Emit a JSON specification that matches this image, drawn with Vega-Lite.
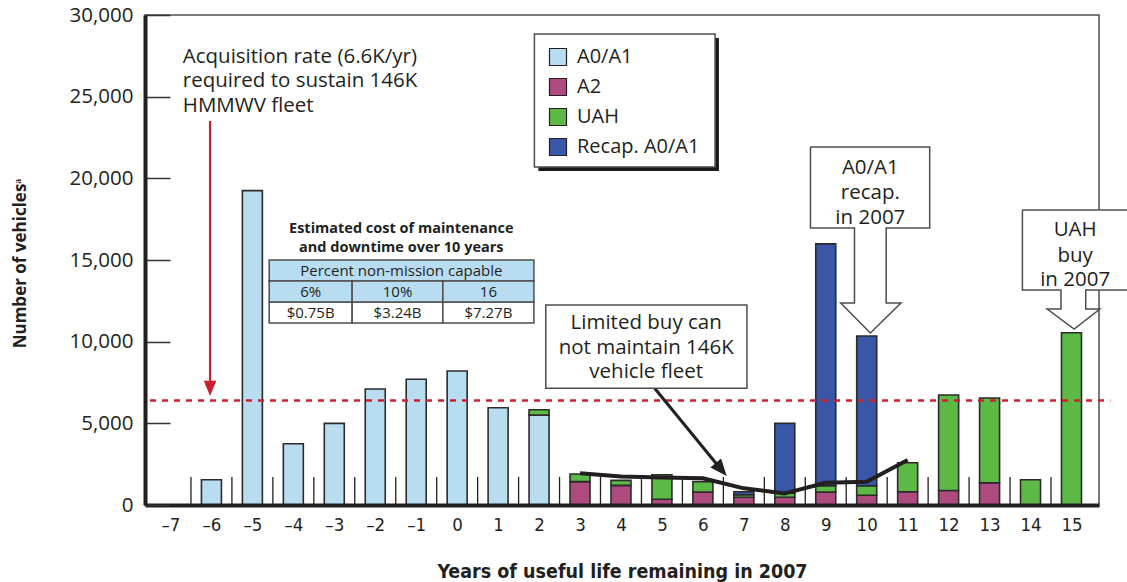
{
  "$schema": "https://vega.github.io/schema/vega-lite/v6.json",
  "width": 954,
  "height": 490,
  "autosize": {"type": "none"},
  "padding": {"left": 145, "top": 15, "right": 28, "bottom": 77},
  "background": "white",
  "config": {
    "view": {"stroke": "#4d4d4d", "strokeWidth": 1.5},
    "font": "Open Sans"
  },
  "datasets": {
    "bars": [
      {"year": -6, "type": "A0/A1", "value": 1550, "ord": 0},
      {"year": -5, "type": "A0/A1", "value": 19250, "ord": 0},
      {"year": -4, "type": "A0/A1", "value": 3750, "ord": 0},
      {"year": -3, "type": "A0/A1", "value": 5000, "ord": 0},
      {"year": -2, "type": "A0/A1", "value": 7100, "ord": 0},
      {"year": -1, "type": "A0/A1", "value": 7700, "ord": 0},
      {"year": 0, "type": "A0/A1", "value": 8200, "ord": 0},
      {"year": 1, "type": "A0/A1", "value": 5950, "ord": 0},
      {"year": 2, "type": "A0/A1", "value": 5500, "ord": 0},
      {"year": 2, "type": "UAH", "value": 330, "ord": 2},
      {"year": 3, "type": "A2", "value": 1430, "ord": 1},
      {"year": 3, "type": "UAH", "value": 470, "ord": 2},
      {"year": 4, "type": "A2", "value": 1200, "ord": 1},
      {"year": 4, "type": "UAH", "value": 310, "ord": 2},
      {"year": 5, "type": "A2", "value": 350, "ord": 1},
      {"year": 5, "type": "UAH", "value": 1500, "ord": 2},
      {"year": 6, "type": "A2", "value": 800, "ord": 1},
      {"year": 6, "type": "UAH", "value": 630, "ord": 2},
      {"year": 7, "type": "A2", "value": 470, "ord": 1},
      {"year": 7, "type": "UAH", "value": 160, "ord": 2},
      {"year": 7, "type": "Recap. A0/A1", "value": 185, "ord": 3},
      {"year": 8, "type": "A2", "value": 470, "ord": 1},
      {"year": 8, "type": "UAH", "value": 245, "ord": 2},
      {"year": 8, "type": "Recap. A0/A1", "value": 4285, "ord": 3},
      {"year": 9, "type": "A2", "value": 800, "ord": 1},
      {"year": 9, "type": "UAH", "value": 385, "ord": 2},
      {"year": 9, "type": "Recap. A0/A1", "value": 14800, "ord": 3},
      {"year": 10, "type": "A2", "value": 600, "ord": 1},
      {"year": 10, "type": "UAH", "value": 580, "ord": 2},
      {"year": 10, "type": "Recap. A0/A1", "value": 9170, "ord": 3},
      {"year": 11, "type": "A2", "value": 815, "ord": 1},
      {"year": 11, "type": "UAH", "value": 1775, "ord": 2},
      {"year": 12, "type": "A2", "value": 890, "ord": 1},
      {"year": 12, "type": "UAH", "value": 5845, "ord": 2},
      {"year": 13, "type": "A2", "value": 1365, "ord": 1},
      {"year": 13, "type": "UAH", "value": 5185, "ord": 2},
      {"year": 14, "type": "UAH", "value": 1550, "ord": 2},
      {"year": 15, "type": "UAH", "value": 10550, "ord": 2}
    ],
    "ticks": [
      {"x": -6.5}, {"x": -5.5}, {"x": -4.5}, {"x": -3.5}, {"x": -2.5}, {"x": -1.5},
      {"x": -0.5}, {"x": 0.5}, {"x": 1.5}, {"x": 2.5}, {"x": 3.5}, {"x": 4.5},
      {"x": 5.5}, {"x": 6.5}, {"x": 7.5}, {"x": 8.5}, {"x": 9.5}, {"x": 10.5},
      {"x": 11.5}, {"x": 12.5}, {"x": 13.5}, {"x": 14.5}
    ],
    "limited": [
      {"x": 3, "y": 1940}, {"x": 4, "y": 1740}, {"x": 5, "y": 1690}, {"x": 6, "y": 1640},
      {"x": 7, "y": 1020}, {"x": 8, "y": 710}, {"x": 9, "y": 1360}, {"x": 10, "y": 1420},
      {"x": 11, "y": 2760}
    ],
    "outlines": [
      {"shape": "recap", "i": 0, "x": 8.627, "y": 21917},
      {"shape": "recap", "i": 1, "x": 11.538, "y": 21917},
      {"shape": "recap", "i": 2, "x": 11.538, "y": 16958},
      {"shape": "recap", "i": 3, "x": 10.475, "y": 16958},
      {"shape": "recap", "i": 4, "x": 10.475, "y": 12366},
      {"shape": "recap", "i": 5, "x": 10.837, "y": 12366},
      {"shape": "recap", "i": 6, "x": 10.089, "y": 10530},
      {"shape": "recap", "i": 7, "x": 9.364, "y": 12366},
      {"shape": "recap", "i": 8, "x": 9.702, "y": 12366},
      {"shape": "recap", "i": 9, "x": 9.702, "y": 16958},
      {"shape": "recap", "i": 10, "x": 8.627, "y": 16958},
      {"shape": "recap", "i": 11, "x": 8.627, "y": 21917},
      {"shape": "uah", "i": 0, "x": 13.802, "y": 18060},
      {"shape": "uah", "i": 1, "x": 16.539, "y": 18060},
      {"shape": "uah", "i": 2, "x": 16.539, "y": 13162},
      {"shape": "uah", "i": 3, "x": 15.348, "y": 13162},
      {"shape": "uah", "i": 4, "x": 15.348, "y": 11999},
      {"shape": "uah", "i": 5, "x": 15.694, "y": 11999},
      {"shape": "uah", "i": 6, "x": 15.066, "y": 10775},
      {"shape": "uah", "i": 7, "x": 14.406, "y": 11999},
      {"shape": "uah", "i": 8, "x": 14.744, "y": 11999},
      {"shape": "uah", "i": 9, "x": 14.744, "y": 13162},
      {"shape": "uah", "i": 10, "x": 13.802, "y": 13162},
      {"shape": "uah", "i": 11, "x": 13.802, "y": 18060}
    ]
  },
  "encoding": {
    "x": {"type": "quantitative", "scale": {"domain": [-7.5, 15.55], "nice": false, "zero": false}},
    "y": {"type": "quantitative", "scale": {"domain": [0, 30000], "nice": false, "zero": false}}
  },
  "layer": [
    {
      "data": {"name": "ticks"},
      "mark": {"type": "rule", "color": "#231f20", "strokeWidth": 1.3},
      "encoding": {
        "x": {"field": "x", "type": "quantitative"},
        "y": {"datum": 0, "type": "quantitative"},
        "y2": {"datum": 1720}
      }
    },
    {
      "data": {"name": "bars"},
      "mark": {"type": "bar", "width": 20, "stroke": "#2b2b2b", "strokeWidth": 1.6},
      "encoding": {
        "x": {
          "field": "year", "type": "quantitative",
          "axis": {
            "values": [-7, -6, -5, -4, -3, -2, -1, 0, 1, 2, 3, 4, 5, 6, 7, 8, 9, 10, 11, 12, 13, 14, 15],
            "format": "d",
            "labelExpr": "replace(datum.label, '−', '–')",
            "ticks": false, "grid": false,
            "labelFont": "DejaVu Sans Condensed, Roboto Condensed, Liberation Sans Narrow, Arial Narrow, sans-serif",
            "labelFontSize": 18.5, "labelColor": "#231f20",
            "labelPadding": 10,
            "domainColor": "#231f20", "domainWidth": 4, "zindex": 1,
            "title": "Years of useful life remaining in 2007",
            "titleFont": "DejaVu Sans Condensed, Roboto Condensed, Liberation Sans Narrow, Arial Narrow, sans-serif",
            "titleFontSize": 19.5, "titleFontWeight": "bold",
            "titleColor": "#231f20", "titleY": 66, "titleBaseline": "middle"
          }
        },
        "y": {
          "field": "value", "type": "quantitative", "stack": "zero",
          "axis": {
            "values": [0, 5000, 10000, 15000, 20000, 25000, 30000],
            "format": ",.0f", "grid": false,
            "labelFont": "Open Sans", "labelFontSize": 20.5, "labelColor": "#231f20",
            "tickSize": -25, "tickColor": "#333333", "tickWidth": 1.5, "labelPadding": 37,
            "domainColor": "#231f20", "domainWidth": 4, "zindex": 1,
            "title": "Number of vehiclesᵃ",
            "titleFont": "Open Sans", "titleFontSize": 17, "titleFontWeight": "bold",
            "titleColor": "#231f20", "titleX": -125, "titleY": 248, "titleBaseline": "middle"
          }
        },
        "color": {
          "field": "type", "type": "nominal",
          "scale": {"domain": ["A0/A1", "A2", "UAH", "Recap. A0/A1"], "range": ["#b8dcf0", "#ad4b7f", "#5cb946", "#3a56a6"]},
          "legend": {
            "orient": "none", "legendX": 403, "legendY": 32, "title": null,
            "symbolType": "square", "symbolSize": 289, "symbolStrokeColor": "#231f20",
            "symbolStrokeWidth": 1.2, "symbolOpacity": 1,
            "labelFont": "Open Sans", "labelFontSize": 20, "labelColor": "#231f20",
            "labelOffset": 9, "rowPadding": 8, "padding": 0
          }
        },
        "order": {"field": "ord", "type": "quantitative"}
      }
    },
    {
      "data": {"values": [{"x": -7.5, "x2": 15.95, "y": 6400}]},
      "mark": {"type": "rule", "color": "#cc2030", "strokeWidth": 2.5, "strokeDash": [6, 6]},
      "encoding": {
        "x": {"field": "x", "type": "quantitative"},
        "x2": {"field": "x2"},
        "y": {"field": "y", "type": "quantitative"}
      }
    },
    {
      "data": {"values": [{"x": -6.034, "y": 23509, "y2": 7300}]},
      "mark": {"type": "rule", "color": "#cc2030", "strokeWidth": 2.2},
      "encoding": {
        "x": {"field": "x", "type": "quantitative"},
        "y": {"field": "y", "type": "quantitative"},
        "y2": {"field": "y2"}
      }
    },
    {
      "data": {"values": [{"x": -6.034, "y": 7224}]},
      "mark": {"type": "point", "shape": "M0,-1L0.7,0.7L-0.7,0.7Z", "size": 324, "filled": true, "color": "#cc2030", "opacity": 1, "angle": 180},
      "encoding": {
        "x": {"field": "x", "type": "quantitative"},
        "y": {"field": "y", "type": "quantitative"}
      }
    },
    {
      "data": {"name": "limited"},
      "mark": {"type": "line", "color": "#231f20", "strokeWidth": 4, "strokeJoin": "round"},
      "encoding": {
        "x": {"field": "x", "type": "quantitative"},
        "y": {"field": "y", "type": "quantitative"}
      }
    },
    {
      "data": {"values": [{"x": 4.822, "y": 7144, "x2": 6.42, "y2": 2250}]},
      "mark": {"type": "rule", "color": "#231f20", "strokeWidth": 3},
      "encoding": {
        "x": {"field": "x", "type": "quantitative"},
        "y": {"field": "y", "type": "quantitative"},
        "x2": {"field": "x2"},
        "y2": {"field": "y2"}
      }
    },
    {
      "data": {"values": [{"x": 6.424, "y": 2247}]},
      "mark": {"type": "point", "shape": "M0,-1L0.7,0.7L-0.7,0.7Z", "size": 400, "filled": true, "color": "#231f20", "opacity": 1, "angle": 140},
      "encoding": {
        "x": {"field": "x", "type": "quantitative"},
        "y": {"field": "y", "type": "quantitative"}
      }
    },
    {
      "data": {"values": [{"x": 1.983, "x2": 6.392, "y": 28590, "y2": 20447}]},
      "mark": {"type": "rect", "color": "#1a1a1a"},
      "encoding": {
        "x": {"field": "x", "type": "quantitative"},
        "x2": {"field": "x2"},
        "y": {"field": "y", "type": "quantitative"},
        "y2": {"field": "y2"}
      }
    },
    {
      "data": {"values": [
        {"x": 1.886, "x2": 6.298, "y": 28835, "y2": 20692},
        {"x": 2.164, "x2": 7.076, "y": 12244, "y2": 7144},
        {"x": -4.589, "x2": -2.564, "y": 12428, "y2": 11142},
        {"x": -2.564, "x2": -0.349, "y": 12428, "y2": 11142},
        {"x": -0.349, "x2": 1.874, "y": 12428, "y2": 11142}
      ]},
      "mark": {"type": "rect", "fill": "white", "stroke": "#4d4d4d", "strokeWidth": 1.5},
      "encoding": {
        "x": {"field": "x", "type": "quantitative"},
        "x2": {"field": "x2"},
        "y": {"field": "y", "type": "quantitative"},
        "y2": {"field": "y2"}
      }
    },
    {
      "data": {"values": [
        {"x": -4.589, "x2": 1.874, "y": 14999, "y2": 13713},
        {"x": -4.589, "x2": -2.564, "y": 13713, "y2": 12428},
        {"x": -2.564, "x2": -0.349, "y": 13713, "y2": 12428},
        {"x": -0.349, "x2": 1.874, "y": 13713, "y2": 12428}
      ]},
      "mark": {"type": "rect", "fill": "#b8dcf0", "stroke": "#4d4d4d", "strokeWidth": 1.5},
      "encoding": {
        "x": {"field": "x", "type": "quantitative"},
        "x2": {"field": "x2"},
        "y": {"field": "y", "type": "quantitative"},
        "y2": {"field": "y2"}
      }
    },
    {
      "data": {"values": [
        {"x": 8.627, "x2": 11.538, "y": 21917, "y2": 16958},
        {"x": 13.802, "x2": 16.539, "y": 18060, "y2": 13162}
      ]},
      "mark": {"type": "rect", "fill": "white"},
      "encoding": {
        "x": {"field": "x", "type": "quantitative"},
        "x2": {"field": "x2"},
        "y": {"field": "y", "type": "quantitative"},
        "y2": {"field": "y2"}
      }
    },
    {
      "data": {"name": "outlines"},
      "mark": {"type": "line", "color": "#4d4d4d", "strokeWidth": 1.5, "strokeJoin": "miter"},
      "encoding": {
        "x": {"field": "x", "type": "quantitative"},
        "y": {"field": "y", "type": "quantitative"},
        "detail": {"field": "shape"},
        "order": {"field": "i", "type": "quantitative"}
      }
    },
    {
      "data": {"values": [
        {"x": -6.7, "y": 27427, "text": "Acquisition rate (6.6K/yr)"},
        {"x": -6.7, "y": 25957, "text": "required to sustain 146K"},
        {"x": -6.7, "y": 24427, "text": "HMMWV fleet"}
      ]},
      "mark": {"type": "text", "align": "left", "baseline": "middle", "font": "Open Sans", "fontSize": 20.5, "color": "#231f20"},
      "encoding": {
        "x": {"field": "x", "type": "quantitative"},
        "y": {"field": "y", "type": "quantitative"},
        "text": {"field": "text"}
      }
    },
    {
      "data": {"values": [
        {"x": 4.616, "y": 11142, "text": "Limited buy can"},
        {"x": 4.616, "y": 9642, "text": "not maintain 146K"},
        {"x": 4.616, "y": 8142, "text": "vehicle fleet"},
        {"x": 10.089, "y": 20631, "text": "A0/A1"},
        {"x": 10.089, "y": 19101, "text": "recap."},
        {"x": 10.089, "y": 17570, "text": "in 2007"},
        {"x": 15.09, "y": 16836, "text": "UAH"},
        {"x": 15.09, "y": 15244, "text": "buy"},
        {"x": 15.09, "y": 13805, "text": "in 2007"}
      ]},
      "mark": {"type": "text", "align": "center", "baseline": "middle", "font": "Open Sans", "fontSize": 20.5, "color": "#231f20"},
      "encoding": {
        "x": {"field": "x", "type": "quantitative"},
        "y": {"field": "y", "type": "quantitative"},
        "text": {"field": "text"}
      }
    },
    {
      "data": {"values": [
        {"x": -1.364, "y": 16897, "text": "Estimated cost of maintenance"},
        {"x": -1.364, "y": 15734, "text": "and downtime over 10 years"}
      ]},
      "mark": {"type": "text", "align": "center", "baseline": "middle", "font": "Open Sans", "fontSize": 14.5, "fontWeight": "bold", "color": "#231f20"},
      "encoding": {
        "x": {"field": "x", "type": "quantitative"},
        "y": {"field": "y", "type": "quantitative"},
        "text": {"field": "text"}
      }
    },
    {
      "data": {"values": [
        {"x": -1.364, "y": 14356, "text": "Percent non-mission capable"},
        {"x": -3.577, "y": 13071, "text": "6%"},
        {"x": -1.455, "y": 13071, "text": "10%"},
        {"x": 0.763, "y": 13071, "text": "16"},
        {"x": -3.577, "y": 11785, "text": "$0.75B"},
        {"x": -1.455, "y": 11785, "text": "$3.24B"},
        {"x": 0.763, "y": 11785, "text": "$7.27B"}
      ]},
      "mark": {"type": "text", "align": "center", "baseline": "middle", "font": "Open Sans", "fontSize": 15, "color": "#231f20"},
      "encoding": {
        "x": {"field": "x", "type": "quantitative"},
        "y": {"field": "y", "type": "quantitative"},
        "text": {"field": "text"}
      }
    }
  ]
}
